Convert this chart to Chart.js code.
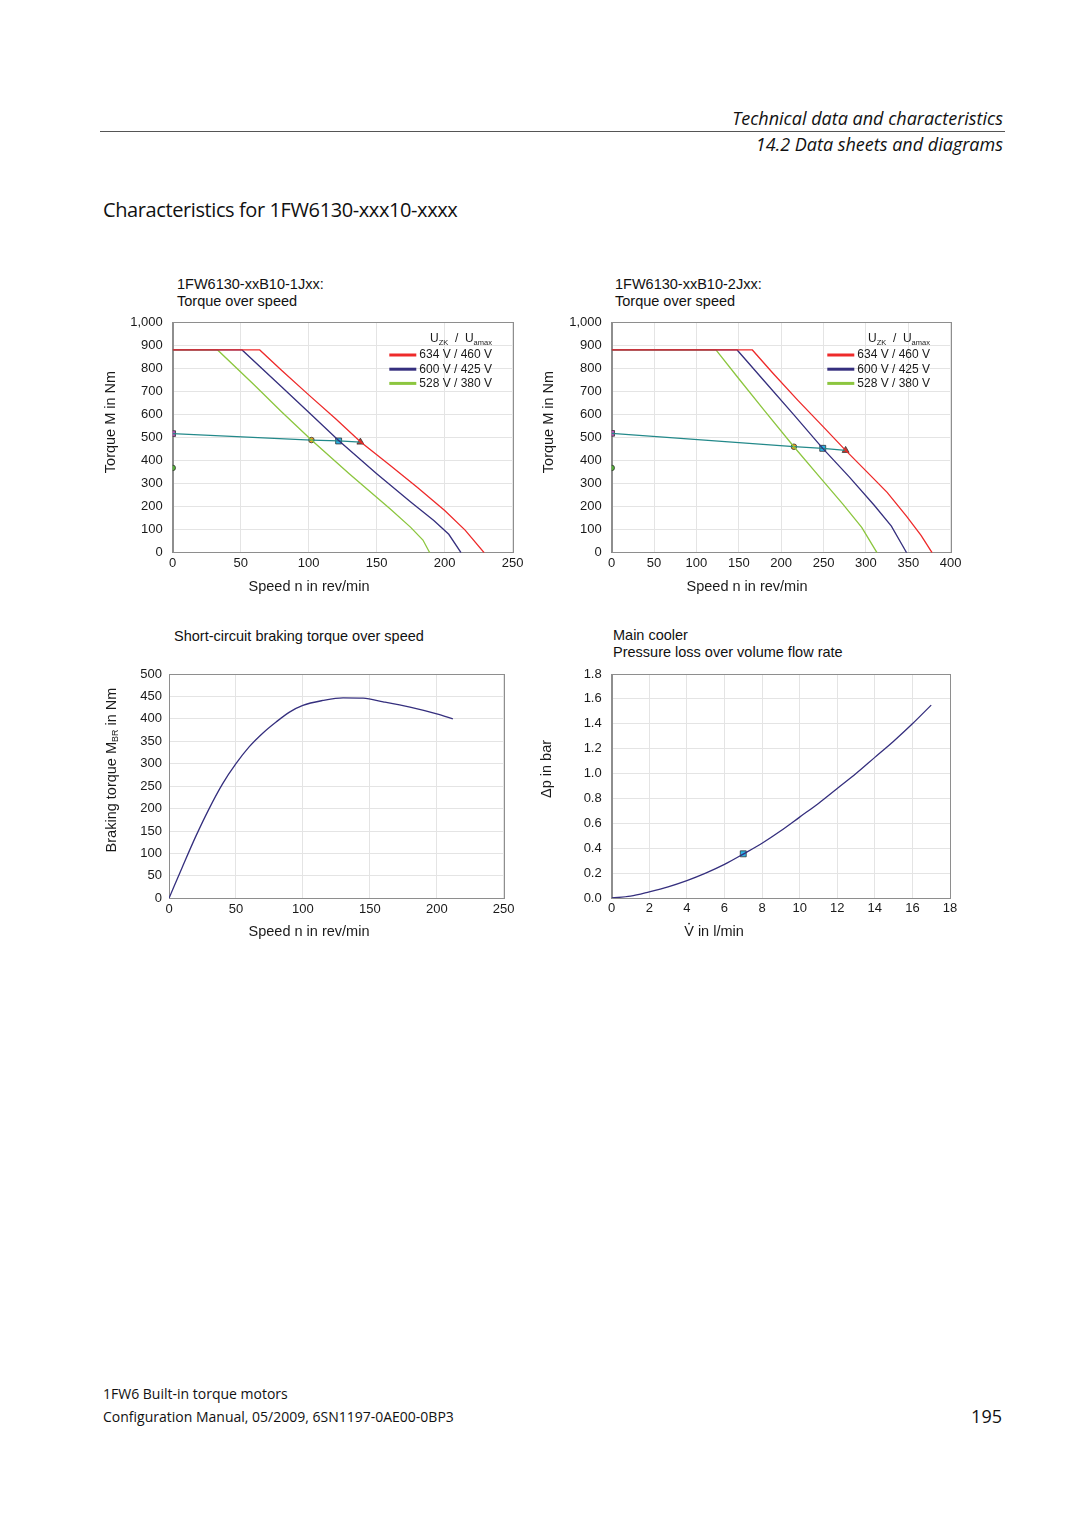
<!DOCTYPE html>
<html>
<head>
<meta charset="utf-8">
<title>Characteristics for 1FW6130-xxx10-xxxx</title>
<script src="https://cdn.jsdelivr.net/npm/chart.js@4.4.1/dist/chart.umd.min.js"></script>
<style>
  body { margin: 0; background: #fff; }
  #page { position: relative; width: 1080px; height: 1527px; overflow: hidden; font-family: 'Open Sans', sans-serif; color: #111; }
  .abs { position: absolute; white-space: nowrap; }
  .hdr { font-style: italic; font-size: 18px; line-height: 22px; right: 77px; }
  .rule { position: absolute; left: 100px; top: 131px; width: 905px; height: 1px; background: #555; }
  .doc-title { left: 103px; top: 197px; font-size: 20px; line-height: 26px; letter-spacing: -0.4px; }
  .foot { left: 103px; font-size: 14px; line-height: 18px; }
  .ctitle { font-family: 'Liberation Sans', Arial, sans-serif; font-size: 14.5px; line-height: 16.5px; color: #111; }
  canvas { position: absolute; }
</style>
</head>
<body>
<div id="page">
  <div class="abs hdr" style="top:107px">Technical data and characteristics</div>
  <div class="rule"></div>
  <div class="abs hdr" style="top:133px">14.2 Data sheets and diagrams</div>
  <div class="abs doc-title">Characteristics for 1FW6130-xxx10-xxxx</div>

  <div class="abs ctitle" style="left:177px; top:276px">1FW6130-xxB10-1Jxx:<br>Torque over speed</div>
  <div class="abs ctitle" style="left:615px; top:276px">1FW6130-xxB10-2Jxx:<br>Torque over speed</div>
  <div class="abs ctitle" style="left:174px; top:628px">Short-circuit braking torque over speed</div>
  <div class="abs ctitle" style="left:613px; top:627px; line-height:17px">Main cooler<br>Pressure loss over volume flow rate</div>

  <canvas id="c1" width="440" height="300" style="left:100px; top:310px"></canvas>
  <canvas id="c2" width="440" height="300" style="left:540px; top:310px"></canvas>
  <canvas id="c3" width="440" height="290" style="left:100px; top:660px"></canvas>
  <canvas id="c4" width="440" height="290" style="left:535px; top:660px"></canvas>

  <div class="abs foot" style="top:1385px">1FW6 Built-in torque motors</div>
  <div class="abs foot" style="top:1408px">Configuration Manual, 05/2009, 6SN1197-0AE00-0BP3</div>
  <div class="abs" style="right:78px; top:1405px; font-size:18px; line-height:22px">195</div>
</div>

<script>
// ---- data ----

// 1FW6130-xxB10-1Jxx: torque over speed
const speed1Red   = [0, 64, 80, 100, 120, 138, 160, 180, 200, 215, 229];
const torque1Red  = [880, 880, 792, 685, 580, 482, 378, 283, 183, 98, 0];
const speed1Navy  = [0, 51, 80, 100, 122, 150, 175, 192, 203, 212];
const torque1Navy = [880, 880, 720, 610, 487, 343, 220, 140, 80, 0];
const speed1Green = [0, 33, 60, 80, 102, 130, 160, 175, 184, 189];
const torque1Green= [880, 880, 728, 612, 489, 342, 190, 110, 55, 0];
const speed1Op    = [0, 102, 122, 138];
const torque1Op   = [517, 489, 485, 480];
const speed1Pts   = [0, 0, 102, 122, 138];
const torque1Pts  = [517, 368, 489, 485, 480];

// 1FW6130-xxB10-2Jxx: torque over speed
const speed2Red   = [0, 166, 190, 220, 250, 276, 300, 325, 348, 365, 378];
const torque2Red  = [880, 880, 780, 660, 545, 444, 355, 262, 158, 75, 0];
const speed2Navy  = [0, 148, 180, 215, 249, 280, 310, 330, 348];
const torque2Navy = [880, 880, 745, 598, 453, 330, 205, 115, 0];
const speed2Green = [0, 123, 150, 180, 215, 245, 273, 295, 313];
const torque2Green= [880, 880, 755, 618, 460, 330, 210, 110, 0];
const speed2Op    = [0, 215, 249, 276];
const torque2Op   = [518, 460, 453, 444];
const speed2Pts   = [0, 0, 215, 249, 276];
const torque2Pts  = [518, 368, 460, 453, 444];

// short-circuit braking torque over speed
const speedBr  = [0, 10, 20, 30, 40, 50, 60, 70, 80, 90, 100, 115, 130, 145, 160, 180, 200, 212];
const torqueBr = [0, 70, 138, 200, 255, 300, 338, 368, 393, 415, 430, 441, 447, 446, 438, 426, 411, 400];

// main cooler: pressure loss over volume flow rate
const flowRate = [0, 1, 2, 3, 4, 5, 6, 7, 8, 9, 10, 11, 12, 13, 14, 15, 16, 17];
const pressure = [0, 0.015, 0.05, 0.09, 0.14, 0.2, 0.27, 0.353, 0.44, 0.54, 0.65, 0.76, 0.88, 1.0, 1.13, 1.26, 1.4, 1.55];
const flowPtX  = [7];
const flowPtY  = [0.355];

const legendLabels = ['634 V / 460 V', '600 V / 425 V', '528 V / 380 V'];

// ---- styling ----
const FONT = "'Liberation Sans', Arial, sans-serif";
const RED = '#ee2a2a';
const NAVY = '#352f7e';
const GREEN = '#8cc63f';
const TEAL = '#23898a';
const GRID = '#e4e4e4';
const FRAME = '#8e8e8e';
const TEXT = '#1a1a1a';

Chart.defaults.font.family = FONT;
Chart.defaults.color = TEXT;

const pts = (xs, ys) => xs.map((x, i) => ({ x: x, y: ys[i] }));

// draw a run of text pieces; p[1] = subscript, p[2] = dot above (V-dot)
function drawRich(ctx, parts, x, y, opts) {
  const size = opts.size || 14.5;
  const subSize = opts.subSize || 9;
  ctx.save();
  ctx.fillStyle = TEXT;
  ctx.textBaseline = 'middle';
  ctx.textAlign = 'left';
  const widths = parts.map(p => {
    ctx.font = (p[1] ? subSize : size) + 'px ' + FONT;
    return ctx.measureText(p[0]).width;
  });
  const total = widths.reduce((a, b) => a + b, 0);
  ctx.translate(x, y);
  if (opts.rotate) ctx.rotate(-Math.PI / 2);
  let cx = opts.start ? 0 : -total / 2;
  parts.forEach((p, i) => {
    ctx.font = (p[1] ? subSize : size) + 'px ' + FONT;
    ctx.fillText(p[0], cx, p[1] ? (opts.subDy || 4) : 0);
    if (p[2]) {
      ctx.beginPath();
      ctx.arc(cx + widths[i] / 2, -size * 0.58, 0.9, 0, Math.PI * 2);
      ctx.fill();
    }
    cx += widths[i];
  });
  ctx.restore();
}

const decorPlugin = {
  id: 'decor',
  beforeDatasetsDraw(chart) {
    const a = chart.chartArea;
    const ctx = chart.ctx;
    ctx.save();
    ctx.strokeStyle = FRAME;
    ctx.lineWidth = 1;
    ctx.strokeRect(Math.round(a.left) + 0.5, Math.round(a.top) + 0.5,
                   Math.round(a.right - a.left), Math.round(a.bottom - a.top));
    ctx.restore();
  },
  afterDraw(chart, args, opts) {
    const ctx = chart.ctx;
    (opts.titles || []).forEach(t => drawRich(ctx, t.parts, t.x, t.y, { rotate: t.rotate }));
    if (opts.legend) {
      const a = chart.chartArea;
      drawRich(ctx, [['U'], ['ZK', true], ['  /  '], ['U'], ['amax', true]],
               a.right - 82.7, a.top + 16.5, { size: 12, subSize: 7.5, start: true, subDy: 4 });
      const colors = [RED, NAVY, GREEN];
      ctx.save();
      legendLabels.forEach((lbl, i) => {
        const y = a.top + 32.7 + i * 14.2;
        ctx.strokeStyle = colors[i];
        ctx.lineWidth = 3;
        ctx.beginPath();
        ctx.moveTo(a.right - 123.4, y);
        ctx.lineTo(a.right - 96.4, y);
        ctx.stroke();
        ctx.fillStyle = TEXT;
        ctx.font = '12px ' + FONT;
        ctx.textBaseline = 'middle';
        ctx.textAlign = 'left';
        ctx.fillText(lbl, a.right - 93.4, y);
      });
      ctx.restore();
    }
  }
};

function lineSet(data, color, smooth) {
  return {
    data: data,
    borderColor: color,
    borderWidth: 1.3,
    pointRadius: 0,
    tension: 0,
    cubicInterpolationMode: smooth ? 'monotone' : 'default',
    fill: false
  };
}

// gap: distance from the axis to the labels; on the y axis it is an
// invisible tick mark so it does not push the plot area down
function axis(min, max, step, fit, gap, vertical, cb) {
  const ticks = { stepSize: step, autoSkip: false, maxRotation: 0,
                  padding: vertical ? 3 : gap, font: { size: 13 }, color: TEXT };
  if (cb) ticks.callback = cb;
  return {
    type: 'linear',
    min: min,
    max: max,
    grid: vertical
      ? { color: GRID, drawTicks: true, tickLength: gap - 3, tickColor: 'rgba(0,0,0,0)' }
      : { color: GRID, drawTicks: false },
    border: { color: FRAME },
    ticks: ticks,
    afterFit: fit
  };
}

function makeChart(id, datasets, scales, padding, decor) {
  return new Chart(document.getElementById(id), {
    type: 'line',
    data: { datasets: datasets },
    options: {
      responsive: false,
      animation: false,
      devicePixelRatio: 1,
      layout: { padding: padding },
      scales: scales,
      plugins: {
        legend: { display: false },
        tooltip: { enabled: false },
        decor: decor
      }
    },
    plugins: [decorPlugin]
  });
}

function torqueChart(id, xs, ys, xMax, yWidth, padRight, yTitleX, xTitleX) {
  const markers = {
    data: pts(xs.pts, ys.pts),
    showLine: false,
    pointStyle: ['rect', 'circle', 'circle', 'rect', 'triangle'],
    pointRadius: [4, 2.8, 2.8, 4.2, 4],
    pointBackgroundColor: ['#b555b5', '#58b33b', '#f3a21f', '#2cb3e6', '#c8382b'],
    pointBorderColor: '#333',
    pointBorderWidth: 0.8
  };
  return makeChart(id, [
    lineSet(pts(xs.red, ys.red), RED),
    lineSet(pts(xs.navy, ys.navy), NAVY),
    lineSet(pts(xs.green, ys.green), GREEN),
    lineSet(pts(xs.op, ys.op), TEAL),
    markers
  ], {
    x: axis(0, xMax, 50, s => { s.height = 57.3; }, 3, false),
    y: axis(0, 1000, 100, s => { s.width = yWidth; }, 10, true, v => v.toLocaleString('en-US'))
  }, { top: 12.3, right: padRight, left: 0, bottom: 0 }, {
    legend: true,
    titles: [
      { parts: [['Torque M in Nm']], x: yTitleX, y: 112, rotate: true },
      { parts: [['Speed n in rev/min']], x: xTitleX, y: 277 }
    ]
  });
}

torqueChart('c1',
  { red: speed1Red, navy: speed1Navy, green: speed1Green, op: speed1Op, pts: speed1Pts },
  { red: torque1Red, navy: torque1Navy, green: torque1Green, op: torque1Op, pts: torque1Pts },
  250, 72.7, 27.3, 11, 209);

torqueChart('c2',
  { red: speed2Red, navy: speed2Navy, green: speed2Green, op: speed2Op, pts: speed2Pts },
  { red: torque2Red, navy: torque2Navy, green: torque2Green, op: torque2Op, pts: torque2Pts },
  400, 71.7, 29.3, 9, 207);

// short-circuit braking torque
makeChart('c3', [lineSet(pts(speedBr, torqueBr), NAVY, true)], {
  x: axis(0, 250, 50, s => { s.height = 51.7; }, 3, false),
  y: axis(0, 500, 50, s => { s.width = 69; }, 7, true)
}, { top: 14, right: 36.3, left: 0, bottom: 0 }, {
  titles: [
    { parts: [['Braking torque M'], ['BR', true], [' in Nm']], x: 12, y: 110, rotate: true },
    { parts: [['Speed n in rev/min']], x: 209, y: 272 }
  ]
});

// main cooler pressure loss
makeChart('c4', [
  lineSet(pts(flowRate, pressure), NAVY, true),
  {
    data: pts(flowPtX, flowPtY),
    showLine: false,
    pointStyle: 'rect',
    pointRadius: 4.2,
    pointBackgroundColor: '#2cb3e6',
    pointBorderColor: '#333',
    pointBorderWidth: 0.8
  }
], {
  x: axis(0, 18, 2, s => { s.height = 52; }, 3, false),
  y: axis(0, 1.8, 0.2, s => { s.width = 76.7; }, 10, true, v => Number(v).toFixed(1))
}, { top: 14, right: 25, left: 0, bottom: 0 }, {
  titles: [
    { parts: [['\u0394p in bar']], x: 12, y: 109, rotate: true },
    { parts: [['V', false, true], [' in l/min']], x: 179, y: 272 }
  ]
});
</script>
</body>
</html>
